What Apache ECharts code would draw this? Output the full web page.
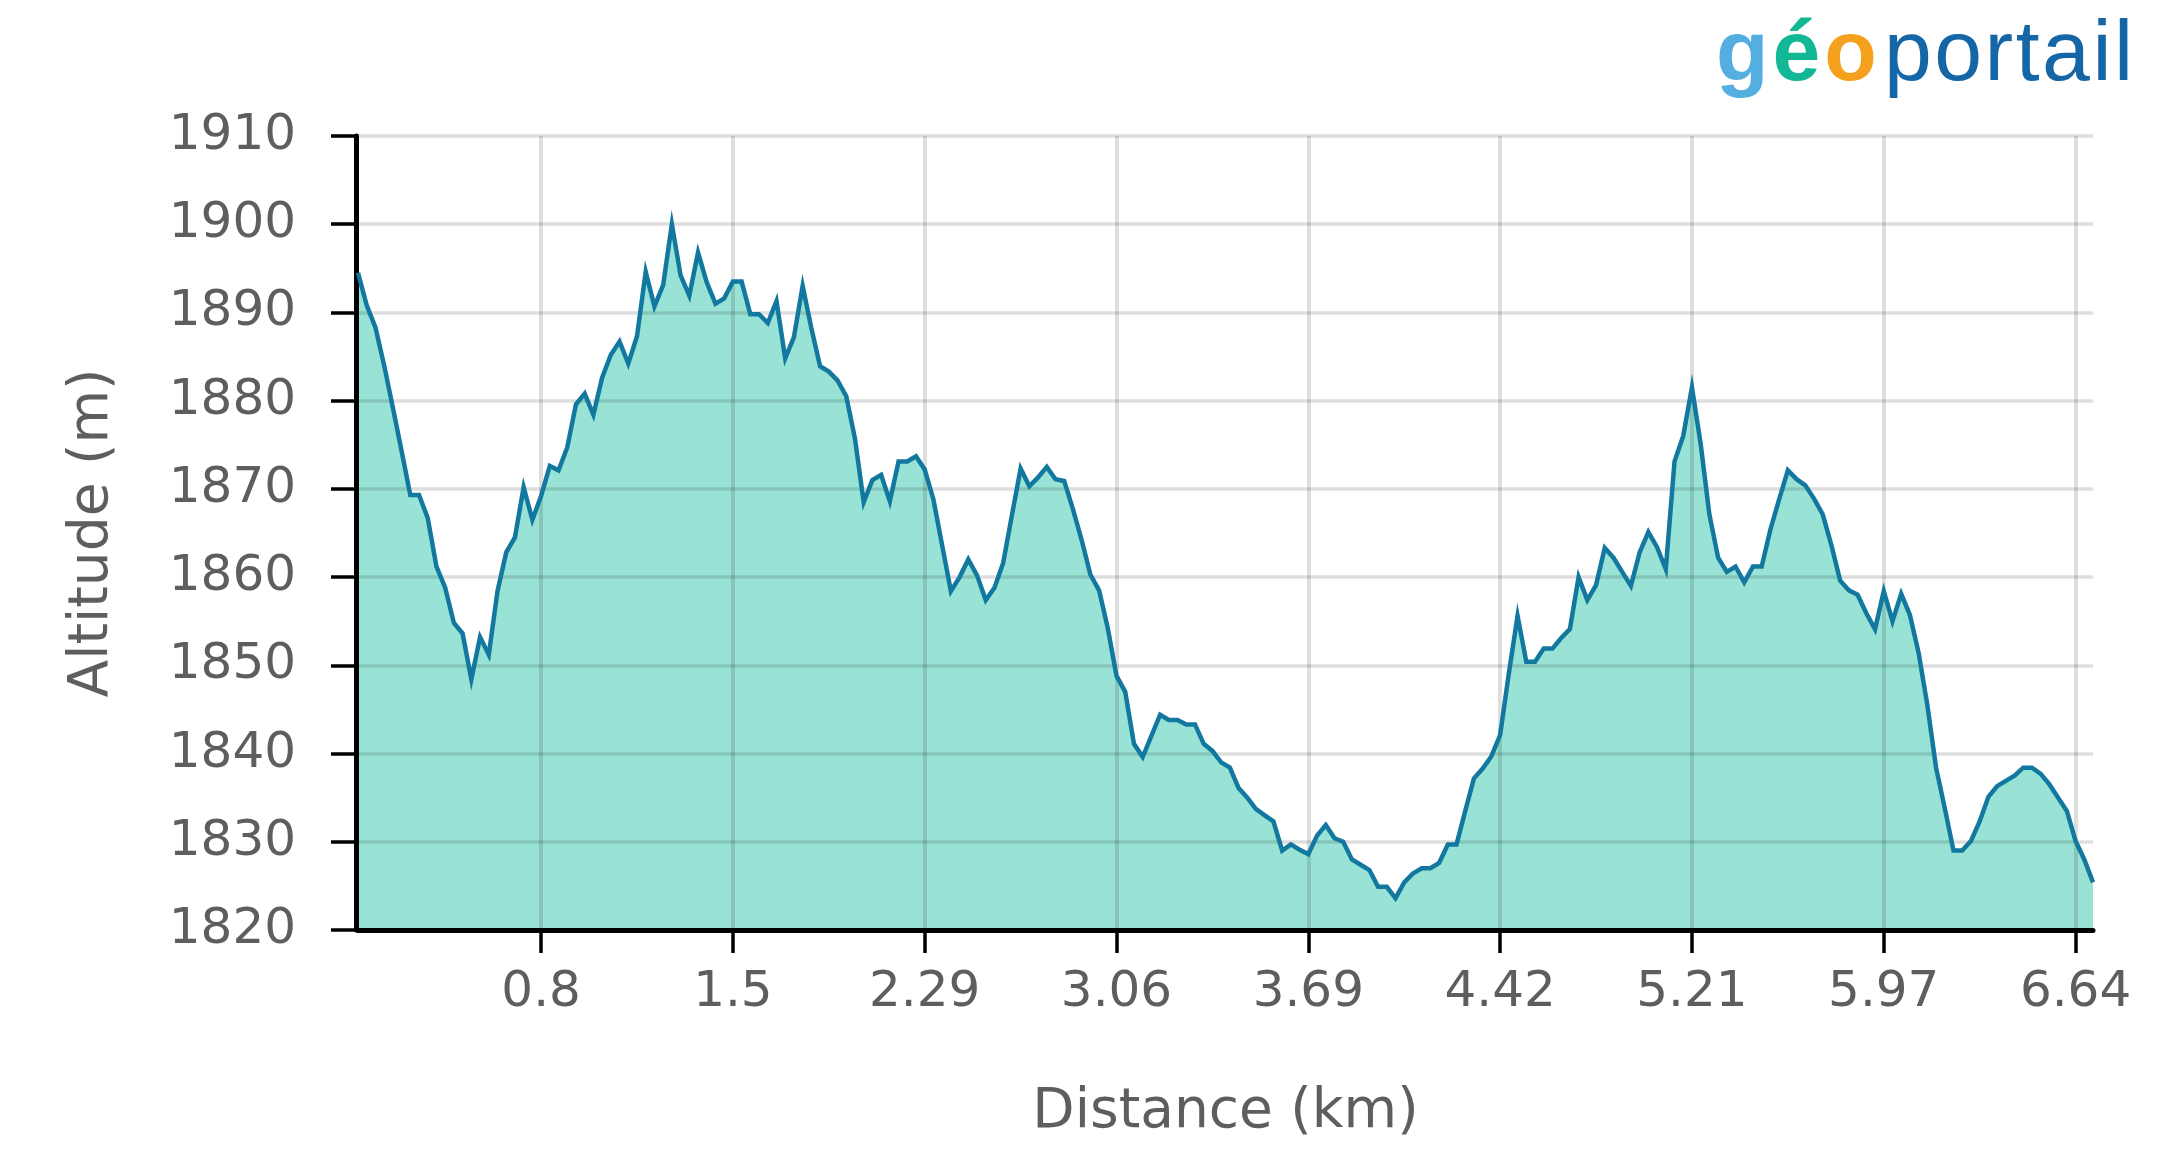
<!DOCTYPE html>
<html>
<head>
<meta charset="utf-8">
<script src="https://cdn.jsdelivr.net/npm/echarts/dist/echarts.min.js"></script>
<style>
html,body{margin:0;padding:0;background:#ffffff;}
#chart{width:2176px;height:1156px;}
</style>
</head>
<body>
<div id="chart"></div>
<script>
// Altitude (m) for each profile sample
const altitudes = [
  1894.5, 1890.8, 1888.3, 1884.0, 1879.2, 1874.3, 1869.3, 1869.3, 1866.7, 1861.2,
  1858.8, 1854.8, 1853.6, 1848.4, 1853.2, 1851.2, 1858.4, 1862.8, 1864.5, 1870.2,
  1866.5, 1869.2, 1872.6, 1872.1, 1874.7, 1879.6, 1880.8, 1878.4, 1882.6, 1885.2,
  1886.7, 1884.2, 1887.3, 1894.6, 1890.7, 1893.1, 1900.0, 1894.2, 1891.9, 1896.8,
  1893.4, 1891.0, 1891.6, 1893.5, 1893.5, 1889.8, 1889.8, 1888.8, 1891.3, 1884.8,
  1887.2, 1893.0, 1888.2, 1883.9, 1883.3, 1882.3, 1880.5, 1875.7, 1868.5, 1871.0,
  1871.6, 1868.6, 1873.1, 1873.1, 1873.7, 1872.2, 1868.8, 1863.6, 1858.4, 1860.0,
  1862.0, 1860.2, 1857.4, 1858.8, 1861.6, 1867.0, 1872.3, 1870.3, 1871.3, 1872.5,
  1871.1, 1870.9, 1867.7, 1864.2, 1860.3, 1858.5, 1854.2, 1848.8, 1847.0, 1841.1,
  1839.6, 1842.0, 1844.4, 1843.8, 1843.8, 1843.3, 1843.3, 1841.1, 1840.3, 1839.0,
  1838.4, 1836.1, 1835.0, 1833.7, 1833.0, 1832.3, 1829.0, 1829.7, 1829.1, 1828.6,
  1830.7, 1831.9, 1830.4, 1830.0, 1828.0, 1827.4, 1826.8, 1824.9, 1824.9, 1823.6,
  1825.4, 1826.4, 1827.0, 1827.0, 1827.6, 1829.7, 1829.7, 1833.5, 1837.2, 1838.3,
  1839.7, 1842.1, 1849.1, 1855.6, 1850.4, 1850.4, 1851.9, 1851.9, 1853.1, 1854.1,
  1860.0, 1857.4, 1859.1, 1863.3, 1862.2, 1860.6, 1859.0, 1862.8, 1865.1, 1863.4,
  1860.9, 1873.1, 1876.0, 1881.5, 1875.1, 1867.1, 1862.2, 1860.6, 1861.2, 1859.4,
  1861.2, 1861.2, 1865.4, 1868.8, 1872.1, 1871.1, 1870.4, 1868.9, 1867.1, 1863.6,
  1859.6, 1858.5, 1858.0, 1855.9, 1854.1, 1858.4, 1855.0, 1858.1, 1855.7, 1851.4,
  1845.5, 1838.4, 1833.8, 1829.0, 1829.0, 1830.1, 1832.3, 1835.1, 1836.3, 1836.9,
  1837.5, 1838.4, 1838.4, 1837.7, 1836.5, 1835.0, 1833.5, 1830.1, 1828.0, 1825.4
];

// Sample positions that carry a distance label (km)
const tickIndices = [21, 43, 65, 87, 109, 131, 153, 175, 197];
const tickLabels = ['0.8', '1.5', '2.29', '3.06', '3.69', '4.42', '5.21', '5.97', '6.64'];

const yMin = 1820, yMax = 1910, yStep = 10;
const xTitle = 'Distance (km)';
const yTitle = 'Altitude (m)';
const logoBold = ['g', 'é', 'o'];
const logoBoldColors = ['#54aee0', '#12b796', '#f6a11d'];
const logoRest = 'portail';

const categories = altitudes.map((_, i) => String(i));
const isTick = (idx) => tickIndices.indexOf(idx) !== -1;

const FONT = 'DejaVu Sans';
const TXT = '#5e5e5e';
const GRID = 'rgba(0,0,0,0.13)';

// logo rich text: each letter a fragment so letter spacing can be matched
const rich = {};
let logoText = '';
logoBold.forEach((ch, i) => {
  rich['b' + i] = {fontFamily: 'Liberation Sans', fontWeight: 'bold', fontSize: 86, fill: logoBoldColors[i], padding: [0, 4, 0, 0]};
  logoText += '{b' + i + '|' + ch + '}';
});
logoRest.split('').forEach((ch, i) => {
  rich['r' + i] = {fontFamily: 'Liberation Sans', fontWeight: 'normal', fontSize: 86, fill: '#1466a6', padding: [0, 2.5, 0, i === 0 ? 3 : 0]};
  logoText += '{r' + i + '|' + ch + '}';
});

const chart = echarts.init(document.getElementById('chart'), null, {renderer: 'canvas'});
chart.setOption({
  animation: false,
  backgroundColor: '#ffffff',
  grid: {left: 358, right: 83, top: 136, bottom: 226, containLabel: false},
  xAxis: {
    type: 'category',
    data: categories,
    boundaryGap: false,
    z: 3,
    axisLine: {show: true, lineStyle: {color: '#000', width: 5}},
    axisTick: {show: true, interval: (i) => isTick(i), length: 23, lineStyle: {color: '#000', width: 3.5}},
    axisLabel: {
      interval: (i) => isTick(i),
      formatter: (v, i) => { const k = tickIndices.indexOf(Number(v)); return k >= 0 ? tickLabels[k] : ''; },
      color: TXT, fontSize: 50, fontFamily: FONT, margin: 38
    },
    splitLine: {show: true, interval: (i) => isTick(i), lineStyle: {color: GRID, width: 4}},
    name: xTitle,
    nameLocation: 'middle',
    nameGap: 155,
    nameTextStyle: {color: TXT, fontSize: 55, fontFamily: FONT}
  },
  yAxis: {
    type: 'value',
    min: yMin, max: yMax, interval: yStep,
    offset: 2,
    z: 3,
    axisLine: {show: true, lineStyle: {color: '#000', width: 5}},
    axisTick: {show: true, length: 25, lineStyle: {color: '#000', width: 3.5}},
    axisLabel: {color: TXT, fontSize: 50, fontFamily: FONT, margin: 60, formatter: (v) => String(v)},
    splitLine: {show: true, lineStyle: {color: GRID, width: 3.5}},
    name: yTitle,
    nameLocation: 'middle',
    nameGap: 236,
    nameTextStyle: {color: TXT, fontSize: 55, fontFamily: FONT}
  },
  series: [
    {
      type: 'line',
      data: altitudes,
      symbol: 'none',
      z: 1,
      lineStyle: {width: 0, opacity: 0},
      areaStyle: {color: '#99e3d6', opacity: 1}
    },
    {
      type: 'line',
      data: altitudes,
      symbol: 'none',
      z: 5,
      lineStyle: {color: '#12789f', width: 4.5, join: 'miter', miterLimit: 10}
    }
  ],
  graphic: [
    {
      type: 'text',
      left: 1716,
      top: 13,
      z: 10,
      style: {text: logoText, rich: rich}
    }
  ]
});
</script>
</body>
</html>
